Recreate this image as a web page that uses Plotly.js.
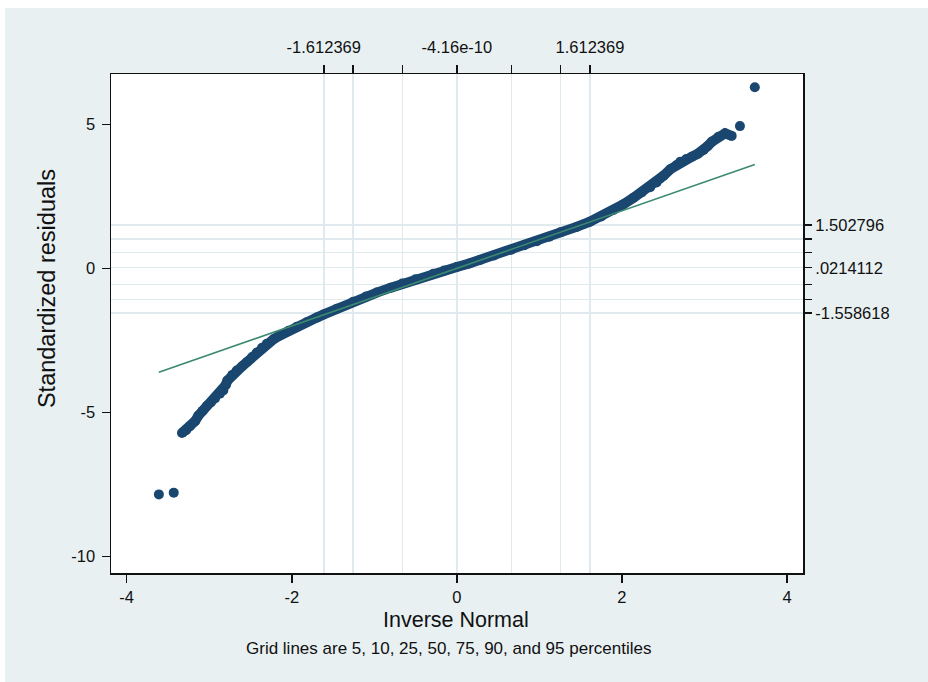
<!DOCTYPE html>
<html>
<head>
<meta charset="utf-8">
<script src="https://cdn.plot.ly/plotly-3.0.1.min.js"></script>
<style>
html,body{margin:0;padding:0;background:#ffffff;}
#chart{position:absolute;left:5px;top:8px;width:923px;height:674px;}
</style>
</head>
<body>
<div id="chart"></div>
<script>
// ---- data ----
// main band of ordered standardized residuals vs inverse normal
const bandX = [-3.33, -3.28, -3.233, -3.17, -3.132, -3.08, -3.03, -2.98, -2.93, -2.87, -2.829, -2.80, -2.78,
  -2.72, -2.667, -2.60, -2.545, -2.48, -2.424, -2.36, -2.303, -2.22, -2.142, -2.04, -1.939, -1.82, -1.697,
  -1.612, -1.455, -1.256, -1.10, -0.97, -0.80, -0.661, -0.50, -0.284, -0.15, 0.0, 0.15, 0.282, 0.45, 0.661,
  0.82, 0.97, 1.12, 1.256, 1.45, 1.612, 1.75, 1.898, 2.02, 2.14, 2.24, 2.343, 2.42, 2.464, 2.505, 2.586,
  2.667, 2.707, 2.78, 2.848, 2.92, 2.99, 3.04, 3.09, 3.17, 3.25, 3.33];
const bandY = [-5.72, -5.62, -5.48, -5.30, -5.12, -4.95, -4.78, -4.66, -4.52, -4.35, -4.24, -4.05, -3.90,
  -3.70, -3.55, -3.40, -3.26, -3.08, -2.92, -2.76, -2.62, -2.46, -2.33, -2.17, -2.03, -1.87, -1.71,
  -1.60, -1.40, -1.16, -0.98, -0.84, -0.67, -0.53, -0.38, -0.19, -0.07, 0.05, 0.17, 0.29, 0.45, 0.65,
  0.80, 0.94, 1.10, 1.25, 1.44, 1.62, 1.80, 2.03, 2.23, 2.45, 2.64, 2.82, 2.98, 3.12, 3.22, 3.44,
  3.60, 3.70, 3.80, 3.88, 3.98, 4.11, 4.25, 4.40, 4.57, 4.69, 4.60];
// isolated extreme points
const outlierX = [-3.61, -3.43, 3.43, 3.61];
const outlierY = [-7.85, -7.79, 4.94, 6.29];
// reference line (y = x over the range of the inverse normal)
const refLineX = [-3.61, 3.61];
const refLineY = [-3.61, 3.61];
// percentile grid: normal quantiles (x) and data percentiles (y)
const gridX = [-1.612369, -1.256308, -0.661176, -4.16e-10, 0.661176, 1.256308, 1.612369];
const gridXLabels = ['-1.612369', '', '', '-4.16e-10', '', '', '1.612369'];
const gridY = [-1.558618, -1.08, -0.56, 0.0214112, 0.55, 1.02, 1.502796];
const gridYLabels = ['-1.558618', '', '', '.0214112', '', '', '1.502796'];
// main axis ticks
const xTicks = [-4, -2, 0, 2, 4];
const xTickLabels = ['-4', '-2', '0', '2', '4'];
const yTicks = [-10, -5, 0, 5];
const yTickLabels = ['-10', '-5', '0', '5'];
// texts
const xTitle = 'Inverse Normal';
const yTitle = 'Standardized residuals';
const note = 'Grid lines are 5, 10, 25, 50, 75, 90, and 95 percentiles';

// ---- styling ----
const FONT = 'Liberation Sans, Arial, sans-serif';
const NAVY = '#1a476f';
const GREEN = '#3b8a6e';
const GRID = '#e0eaee';
const INK = '#111111';
const XR = [-4.19, 4.194];
const YR = [-10.58, 6.75];

const traces = [
  {x: bandX, y: bandY, type: 'scatter', mode: 'lines+markers',
   line: {color: NAVY, width: 10, shape: 'linear'},
   marker: {color: NAVY, size: 10}, hoverinfo: 'skip', xaxis: 'x', yaxis: 'y'},
  {x: outlierX, y: outlierY, type: 'scatter', mode: 'markers',
   marker: {color: NAVY, size: 10}, hoverinfo: 'skip', xaxis: 'x', yaxis: 'y'},
  {x: refLineX, y: refLineY, type: 'scatter', mode: 'lines',
   line: {color: GREEN, width: 1.6}, hoverinfo: 'skip', xaxis: 'x2', yaxis: 'y2'}
];

const tickFont = {size: 16.5, family: FONT, color: INK};

const layout = {
  width: 923, height: 674,
  margin: {l: 106, r: 125, t: 66, b: 109, pad: 0},
  paper_bgcolor: '#e8f0f2',
  plot_bgcolor: '#ffffff',
  showlegend: false,
  font: {family: FONT, color: INK},
  xaxis: {
    range: XR, tickmode: 'array', tickvals: xTicks, ticktext: xTickLabels,
    ticks: 'outside', ticklen: 8, tickwidth: 1.5, tickcolor: INK, ticklabelstandoff: 1,
    showline: true, linecolor: INK, linewidth: 1.5, mirror: true,
    showgrid: false, zeroline: false, tickfont: tickFont
  },
  xaxis2: {
    overlaying: 'x', side: 'top', anchor: 'y', range: XR,
    tickmode: 'array', tickvals: gridX, ticktext: gridXLabels,
    ticks: 'outside', ticklen: 8, tickwidth: 1.5, tickcolor: INK, ticklabelstandoff: 5,
    showline: false, zeroline: false,
    showgrid: true, gridcolor: GRID, gridwidth: 1.5, tickfont: tickFont
  },
  yaxis: {
    range: YR, tickmode: 'array', tickvals: yTicks, ticktext: yTickLabels,
    ticks: 'outside', ticklen: 8, tickwidth: 1.5, tickcolor: INK, ticklabelstandoff: 3,
    showline: true, linecolor: INK, linewidth: 1.5, mirror: true,
    showgrid: false, zeroline: false, tickfont: tickFont
  },
  yaxis2: {
    overlaying: 'y', side: 'right', anchor: 'x', range: YR,
    tickmode: 'array', tickvals: gridY, ticktext: gridYLabels,
    ticks: 'outside', ticklen: 8, tickwidth: 1.5, tickcolor: INK,
    showline: false, zeroline: false,
    showgrid: true, gridcolor: GRID, gridwidth: 1.5, tickfont: tickFont
  },
  annotations: [
    {text: xTitle, xref: 'paper', yref: 'paper', x: 0.498, y: -0.0935,
     xanchor: 'center', yanchor: 'middle', showarrow: false,
     font: {size: 21.5, family: FONT, color: INK}},
    {text: yTitle, xref: 'paper', yref: 'paper', x: -0.0925, y: 0.571, textangle: -90,
     xanchor: 'center', yanchor: 'middle', showarrow: false,
     font: {size: 23.5, family: FONT, color: INK}},
    {text: note, xref: 'paper', yref: 'paper', x: 0.487, y: -0.151,
     xanchor: 'center', yanchor: 'middle', showarrow: false,
     font: {size: 17, family: FONT, color: INK}}
  ]
};

Plotly.newPlot('chart', traces, layout, {staticPlot: true, displayModeBar: false});
</script>
</body>
</html>
